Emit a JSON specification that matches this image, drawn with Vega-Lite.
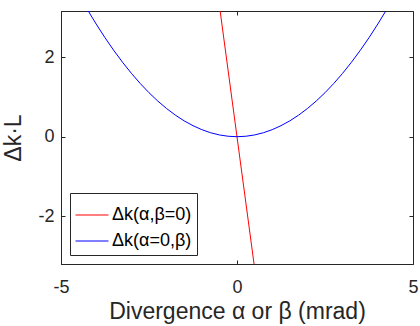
{
  "$schema": "https://vega.github.io/schema/vega-lite/v6.json",
  "width": 352,
  "height": 253,
  "autosize": "none",
  "padding": {"left": 61, "top": 11, "right": 7, "bottom": 62},
  "background": "white",
  "config": {
    "font": "Liberation Sans",
    "view": {"stroke": "#262626", "strokeWidth": 1},
    "axis": {
      "grid": false,
      "domainColor": "#262626",
      "tickColor": "#262626",
      "labelColor": "#262626",
      "titleColor": "#262626",
      "labelFont": "Liberation Sans",
      "titleFont": "Liberation Sans",
      "labelFontSize": 18,
      "titleFontSize": 23,
      "titleFontWeight": "normal",
      "tickSize": -4,
      "labelFlush": false
    }
  },
  "resolve": {"axis": {"x": "independent", "y": "independent"}},
  "data": {
    "values": [
      {"x": -0.6, "y": 3.96, "s": "Δk(α,β=0)"},
      {"x": 0.6, "y": -3.96, "s": "Δk(α,β=0)"},
      {"x": -4.5, "y": 3.582, "s": "Δk(α=0,β)"},
      {"x": -4.25, "y": 3.195, "s": "Δk(α=0,β)"},
      {"x": -4.0, "y": 2.832, "s": "Δk(α=0,β)"},
      {"x": -3.75, "y": 2.489, "s": "Δk(α=0,β)"},
      {"x": -3.5, "y": 2.168, "s": "Δk(α=0,β)"},
      {"x": -3.25, "y": 1.870, "s": "Δk(α=0,β)"},
      {"x": -3.0, "y": 1.593, "s": "Δk(α=0,β)"},
      {"x": -2.75, "y": 1.339, "s": "Δk(α=0,β)"},
      {"x": -2.5, "y": 1.106, "s": "Δk(α=0,β)"},
      {"x": -2.25, "y": 0.896, "s": "Δk(α=0,β)"},
      {"x": -2.0, "y": 0.708, "s": "Δk(α=0,β)"},
      {"x": -1.75, "y": 0.542, "s": "Δk(α=0,β)"},
      {"x": -1.5, "y": 0.398, "s": "Δk(α=0,β)"},
      {"x": -1.25, "y": 0.277, "s": "Δk(α=0,β)"},
      {"x": -1.0, "y": 0.177, "s": "Δk(α=0,β)"},
      {"x": -0.75, "y": 0.0996, "s": "Δk(α=0,β)"},
      {"x": -0.5, "y": 0.0443, "s": "Δk(α=0,β)"},
      {"x": -0.25, "y": 0.0111, "s": "Δk(α=0,β)"},
      {"x": 0.0, "y": 0.0, "s": "Δk(α=0,β)"},
      {"x": 0.25, "y": 0.0111, "s": "Δk(α=0,β)"},
      {"x": 0.5, "y": 0.0443, "s": "Δk(α=0,β)"},
      {"x": 0.75, "y": 0.0996, "s": "Δk(α=0,β)"},
      {"x": 1.0, "y": 0.177, "s": "Δk(α=0,β)"},
      {"x": 1.25, "y": 0.277, "s": "Δk(α=0,β)"},
      {"x": 1.5, "y": 0.398, "s": "Δk(α=0,β)"},
      {"x": 1.75, "y": 0.542, "s": "Δk(α=0,β)"},
      {"x": 2.0, "y": 0.708, "s": "Δk(α=0,β)"},
      {"x": 2.25, "y": 0.896, "s": "Δk(α=0,β)"},
      {"x": 2.5, "y": 1.106, "s": "Δk(α=0,β)"},
      {"x": 2.75, "y": 1.339, "s": "Δk(α=0,β)"},
      {"x": 3.0, "y": 1.593, "s": "Δk(α=0,β)"},
      {"x": 3.25, "y": 1.870, "s": "Δk(α=0,β)"},
      {"x": 3.5, "y": 2.168, "s": "Δk(α=0,β)"},
      {"x": 3.75, "y": 2.489, "s": "Δk(α=0,β)"},
      {"x": 4.0, "y": 2.832, "s": "Δk(α=0,β)"},
      {"x": 4.25, "y": 3.195, "s": "Δk(α=0,β)"},
      {"x": 4.5, "y": 3.582, "s": "Δk(α=0,β)"}
    ]
  },
  "layer": [
    {
      "mark": {"type": "line", "clip": true, "strokeWidth": 1},
      "encoding": {
        "x": {
          "field": "x", "type": "quantitative",
          "scale": {"domain": [-5, 5], "nice": false},
          "axis": {"values": [-5, 0, 5], "labelExpr": "'' + datum.value", "title": "Divergence α or β (mrad)", "titlePadding": 4, "labelPadding": 18}
        },
        "y": {
          "field": "y", "type": "quantitative",
          "scale": {"domain": [-3.2, 3.16], "nice": false, "zero": false},
          "axis": {"values": [-2, 0, 2], "labelExpr": "'' + datum.value", "title": "Δk·L", "titlePadding": 12, "labelPadding": 11}
        },
        "color": {
          "field": "s", "type": "nominal",
          "scale": {"domain": ["Δk(α,β=0)", "Δk(α=0,β)"], "range": ["#ff0000", "#0000ff"]},
          "legend": {
            "title": null,
            "orient": "bottom-left",
            "offset": 9,
            "symbolType": "stroke",
            "symbolSize": 1089,
            "symbolStrokeWidth": 1,
            "symbolOpacity": 1,
            "labelFontSize": 18,
            "labelFont": "Liberation Sans",
            "labelColor": "#000000",
            "strokeColor": "#262626",
            "fillColor": "white",
            "padding": 5,
            "rowPadding": -8,
            "labelOffset": 3
          }
        },
        "detail": {"field": "s"}
      }
    },
    {
      "mark": {"type": "point", "opacity": 0},
      "data": {"values": [{"x": 0, "y": 0}]},
      "encoding": {
        "x": {"field": "x", "type": "quantitative", "axis": {"orient": "top", "values": [-5, 0, 5], "labels": false, "title": null, "domain": false}},
        "y": {"field": "y", "type": "quantitative", "axis": {"orient": "right", "values": [-2, 0, 2], "labels": false, "title": null, "domain": false}}
      }
    }
  ]
}
